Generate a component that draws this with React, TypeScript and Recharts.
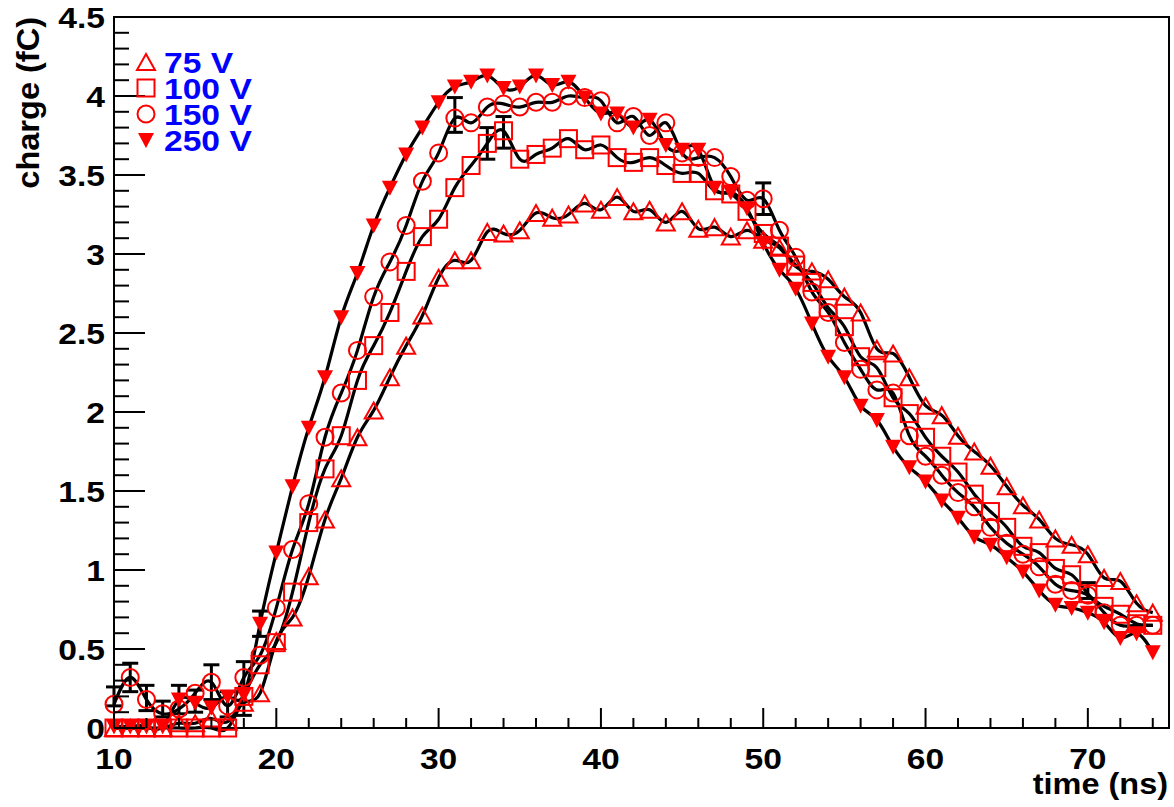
import { ComposedChart, Line, Scatter, XAxis, YAxis, ErrorBar, ReferenceArea } from 'recharts'

// charge vs time, one point per ns
const TIME_NS = [
  10, 11, 12, 13, 14, 15, 16, 17, 18, 19, 20, 21, 22, 23, 24, 25, 26, 27, 28, 29, 30, 31, 32,
  33, 34, 35, 36, 37, 38, 39, 40, 41, 42, 43, 44, 45, 46, 47, 48, 49, 50, 51, 52, 53, 54, 55,
  56, 57, 58, 59, 60, 61, 62, 63, 64, 65, 66, 67, 68, 69, 70, 71, 72, 73, 74,
]

const CHARGE_75V = [
  0.0, 0.0, 0.0, 0.0, 0.03, 0.03, 0.06, 0.04, 0.16, 0.22, 0.55, 0.7, 0.96, 1.32, 1.58, 1.84,
  2.01, 2.22, 2.42, 2.61, 2.85, 2.96, 2.96, 3.14, 3.13, 3.15, 3.26, 3.23, 3.25, 3.32, 3.28,
  3.36, 3.27, 3.28, 3.2, 3.27, 3.16, 3.17, 3.11, 3.15, 3.09, 3.04, 2.92, 2.89, 2.84, 2.73,
  2.63, 2.4, 2.37, 2.22, 2.04, 1.98, 1.85, 1.75, 1.66, 1.53, 1.41, 1.32, 1.2, 1.16, 1.1, 0.95,
  0.93, 0.79, 0.73,
]

const CHARGE_100V = [
  0.0, 0.0, 0.0, 0.0, 0.0, 0.0, 0.0, 0.0, 0.2, 0.4, 0.54, 0.86, 1.3, 1.64, 1.85, 2.2, 2.42,
  2.63, 2.89, 3.11, 3.22, 3.42, 3.56, 3.7, 3.78, 3.6, 3.63, 3.67, 3.73, 3.66, 3.69, 3.61, 3.58,
  3.61, 3.56, 3.51, 3.51, 3.4, 3.38, 3.27, 3.13, 3.05, 2.93, 2.82, 2.66, 2.54, 2.35, 2.28, 2.09,
  1.99, 1.84, 1.72, 1.62, 1.48, 1.37, 1.27, 1.15, 1.11, 1.01, 0.97, 0.85, 0.77, 0.72, 0.66,
  0.65,
]

const CHARGE_150V = [
  0.15, 0.32, 0.18, 0.09, 0.12, 0.22, 0.29, 0.14, 0.32, 0.46, 0.76, 1.13, 1.42, 1.84, 2.12,
  2.39, 2.73, 2.95, 3.18, 3.46, 3.64, 3.86, 3.83, 3.93, 3.95, 3.93, 3.96, 3.96, 4.0, 3.99, 3.97,
  3.83, 3.87, 3.75, 3.83, 3.64, 3.61, 3.61, 3.49, 3.34, 3.35, 3.15, 2.98, 2.76, 2.63, 2.44,
  2.27, 2.14, 2.12, 1.85, 1.72, 1.6, 1.49, 1.4, 1.27, 1.17, 1.1, 1.02, 0.91, 0.87, 0.84, 0.73,
  0.65, 0.65, 0.65,
]

const CHARGE_250V = [
  0.01, 0.01, 0.01, 0.01, 0.18, 0.16, 0.13, 0.2, 0.21, 0.66, 1.11, 1.53, 1.9, 2.22, 2.6, 2.88,
  3.18, 3.42, 3.63, 3.8, 3.96, 4.06, 4.09, 4.13, 4.05, 4.06, 4.13, 4.07, 4.09, 3.99, 3.89, 3.89,
  3.8, 3.85, 3.69, 3.66, 3.66, 3.42, 3.39, 3.29, 3.07, 2.9, 2.78, 2.56, 2.35, 2.22, 2.04, 1.95,
  1.78, 1.65, 1.56, 1.44, 1.33, 1.21, 1.16, 1.08, 0.99, 0.87, 0.78, 0.76, 0.73, 0.67, 0.57, 0.6,
  0.48,
]

// the few points that carry visible error bars
const ERR_TIME = [10, 11, 12, 13, 14, 15, 16, 17, 18, 19, 31, 33, 34, 50, 70]
const ERR_CHARGE = [0.2, 0.32, 0.19, 0.12, 0.18, 0.17, 0.29, 0.15, 0.25, 0.66, 3.88, 3.7, 3.77, 3.35, 0.87]
const ERR_SIZE = [0.06, 0.09, 0.08, 0.05, 0.09, 0.07, 0.11, 0.08, 0.17, 0.08, 0.11, 0.1, 0.1, 0.1, 0.05]

const X_TICKS = [10, 12, 14, 16, 18, 20, 22, 24, 26, 28, 30, 32, 34, 36, 38, 40, 42, 44, 46, 48, 50, 52, 54, 56, 58, 60, 62, 64, 66, 68, 70, 72, 74]
const Y_TICKS = [
  0, 0.1, 0.2, 0.3, 0.4, 0.5, 0.6, 0.7, 0.8, 0.9, 1, 1.1, 1.2, 1.3, 1.4, 1.5, 1.6, 1.7, 1.8, 1.9,
  2, 2.1, 2.2, 2.3, 2.4, 2.5, 2.6, 2.7, 2.8, 2.9, 3, 3.1, 3.2, 3.3, 3.4, 3.5, 3.6, 3.7, 3.8, 3.9,
  4, 4.1, 4.2, 4.3, 4.4, 4.5,
]
const LEGEND_LABELS = ['75 V', '100 V', '150 V', '250 V']

const RED = '#ff0000'
const FONT = '"Liberation Sans", Arial, Helvetica, sans-serif'
// the original bold face runs a bit wider than Liberation Sans
const WIDEN = 1.12

const rows = TIME_NS.map((t, i) => ({
  t,
  q75: CHARGE_75V[i],
  q100: CHARGE_100V[i],
  q150: CHARGE_150V[i],
  q250: CHARGE_250V[i],
}))
const errRows = ERR_TIME.map((t, i) => ({ t, q: ERR_CHARGE[i], e: ERR_SIZE[i] }))

type Kind = 'triUp' | 'square' | 'circle' | 'triDown'

function Marker({ kind, cx, cy }: { kind: Kind; cx?: number; cy?: number }) {
  if (cx == null || cy == null) return null
  if (kind === 'triUp')
    return <path d={`M${cx},${cy - 8} L${cx + 9},${cy + 8} L${cx - 9},${cy + 8} Z`} fill="none" stroke={RED} strokeWidth={2} />
  if (kind === 'square')
    return <rect x={cx - 8.5} y={cy - 8.5} width={17} height={17} fill="none" stroke={RED} strokeWidth={2} />
  if (kind === 'circle') return <circle cx={cx} cy={cy} r={8.5} fill="none" stroke={RED} strokeWidth={2} />
  return <path d={`M${cx - 8},${cy - 7} L${cx + 8},${cy - 7} L${cx},${cy + 8} Z`} fill={RED} />
}

const dotFor = (kind: Kind) => (p: any) => <Marker key={`${kind}-${p.index}`} kind={kind} cx={p.cx} cy={p.cy} />

// bold label, stretched horizontally around its anchor point
function Label({ x, y, anchor, size = 30, color = '#000', children }: any) {
  return (
    <text
      transform={`translate(${x},${y}) scale(${WIDEN},1)`}
      textAnchor={anchor}
      fontSize={size}
      fontWeight="bold"
      fontFamily={FONT}
      fill={color}
    >
      {children}
    </text>
  )
}

function YTick({ x, y, payload }: any) {
  const v = payload.value
  const major = Math.round(v * 10) % 5 === 0
  const ax = x + 8
  return (
    <g>
      <line x1={ax} x2={ax + (major ? 31 : 15)} y1={y} y2={y} stroke="#000" strokeWidth={2} />
      {major && (
        <Label x={x - 1} y={y + 11} anchor="end">
          {String(v)}
        </Label>
      )}
    </g>
  )
}

function XTick({ x, y, payload }: any) {
  const v = payload.value
  const major = v % 10 === 0
  return (
    <g>
      <line x1={x} x2={x} y1={y} y2={y - (major ? 20 : 10)} stroke="#000" strokeWidth={2} />
      {major && (
        <Label x={x} y={y + 41} anchor="middle">
          {String(v)}
        </Label>
      )}
    </g>
  )
}

const KINDS: Kind[] = ['triUp', 'square', 'circle', 'triDown']
const LEGEND_Y = [62, 88, 114, 140]

export default function App() {
  return (
    <div style={{ position: 'absolute', left: 0, top: 0, width: 1174, height: 807, background: '#fff' }}>
      <ComposedChart width={1174} height={807} data={rows} margin={{ top: 17, right: 5, left: 0, bottom: 0 }}>
        <XAxis
          dataKey="t"
          type="number"
          domain={[10, 75]}
          ticks={X_TICKS}
          interval={0}
          height={79}
          tickSize={0}
          tickMargin={0}
          tick={<XTick />}
          axisLine={{ stroke: '#000', strokeWidth: 2 }}
        />
        <YAxis
          type="number"
          domain={[0, 4.5]}
          ticks={Y_TICKS}
          interval={0}
          width={114}
          tickSize={0}
          tickMargin={8}
          tick={<YTick />}
          axisLine={{ stroke: '#000', strokeWidth: 2 }}
        />
        <ReferenceArea x1={10} x2={75} y1={0} y2={4.5} fill="none" stroke="#000" strokeWidth={2} ifOverflow="visible" />
        <Scatter data={errRows} dataKey="q" shape={() => <g />} isAnimationActive={false}>
          <ErrorBar dataKey="e" direction="y" width={8} stroke="#000" strokeWidth={3} />
        </Scatter>
        <Line dataKey="q75" type="natural" stroke="#000" strokeWidth={3.2} dot={dotFor('triUp')} activeDot={false} isAnimationActive={false} />
        <Line dataKey="q100" type="natural" stroke="#000" strokeWidth={3.2} dot={dotFor('square')} activeDot={false} isAnimationActive={false} />
        <Line dataKey="q150" type="natural" stroke="#000" strokeWidth={3.2} dot={dotFor('circle')} activeDot={false} isAnimationActive={false} />
        <Line dataKey="q250" type="natural" stroke="#000" strokeWidth={3.2} dot={dotFor('triDown')} activeDot={false} isAnimationActive={false} />
      </ComposedChart>
      <svg width={1174} height={807} style={{ position: 'absolute', left: 0, top: 0, pointerEvents: 'none' }}>
        <text
          transform="translate(39,17) rotate(-90) scale(1.05,1)"
          textAnchor="end"
          fontSize={31}
          fontWeight="bold"
          fontFamily={FONT}
          fill="#000"
        >
          charge (fC)
        </text>
        <Label x={1168} y={794} anchor="end" size={29}>
          time (ns)
        </Label>
        {LEGEND_LABELS.map((label, i) => (
          <g key={label}>
            <Marker kind={KINDS[i]} cx={146} cy={LEGEND_Y[i]} />
            <Label x={164} y={LEGEND_Y[i] + 11} anchor="start" color="#0000ff">
              {label}
            </Label>
          </g>
        ))}
      </svg>
    </div>
  )
}
